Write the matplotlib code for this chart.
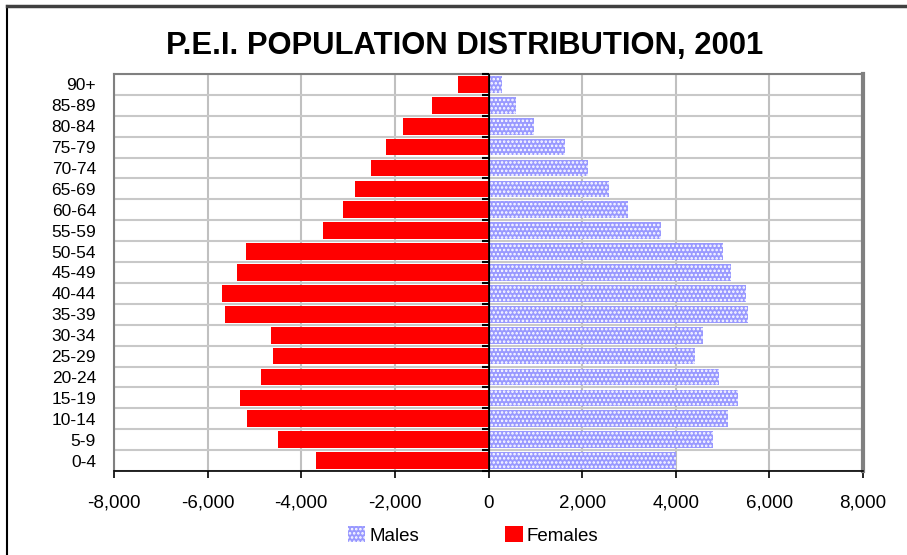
import numpy as np
import matplotlib
matplotlib.use("Agg")
import matplotlib.pyplot as plt
from matplotlib.ticker import FuncFormatter
from matplotlib.lines import Line2D
from matplotlib.patches import Patch

plt.rcParams['font.family'] = ['Liberation Sans', 'DejaVu Sans']
plt.rcParams['hatch.linewidth'] = 1.2

age_groups = ["0-4", "5-9", "10-14", "15-19", "20-24", "25-29", "30-34",
              "35-39", "40-44", "45-49", "50-54", "55-59", "60-64", "65-69",
              "70-74", "75-79", "80-84", "85-89", "90+"]
males = [4000, 4790, 5110, 5330, 4920, 4410, 4590, 5540, 5500, 5180,
         5000, 3680, 2980, 2580, 2120, 1640, 980, 580, 290]
females = [3690, 4490, 5150, 5300, 4850, 4600, 4640, 5620, 5700, 5370,
           5180, 3540, 3100, 2850, 2520, 2190, 1830, 1210, 650]
xticks = [-8000, -6000, -4000, -2000, 0, 2000, 4000, 6000, 8000]

y = np.arange(len(age_groups))

fig = plt.figure(figsize=(9.07, 5.55), dpi=100)
fig.set_facecolor("white")
ax = fig.add_axes([114/907, 1 - 471/555, (863 - 114)/907, (471 - 74)/555])

ax.barh(y, males, height=0.8, color="#9999ff", edgecolor="white",
        hatch="....", linewidth=0, label="Males", zorder=3)
ax.barh(y, [-v for v in females], height=0.8, color="#ff0000",
        linewidth=0, label="Females", zorder=3)

ax.set_xlim(-8000, 8000)
ax.set_ylim(-0.5, len(age_groups) - 0.5)
ax.set_xticks(xticks)
ax.xaxis.set_major_formatter(FuncFormatter(lambda v, p: f"{v:,.0f}"))
ax.set_yticks(y)
ax.set_yticklabels(age_groups)
ax.set_yticks(np.arange(-0.5, len(age_groups)), minor=True)
ax.tick_params(axis='y', which='both', length=0, labelsize=12.5, pad=13)
ax.tick_params(axis='x', length=5, width=1.2, labelsize=13.5, pad=12,
               color="black")
ax.grid(axis='x', color="#c0c0c0", linewidth=1.5, zorder=0)
ax.grid(axis='y', which='minor', color="#c8c8c8", linewidth=1.5, zorder=0)
ax.set_axisbelow(True)

ax.spines['top'].set_color("#808080")
ax.spines['top'].set_linewidth(1.5)
ax.spines['left'].set_color("#808080")
ax.spines['left'].set_linewidth(1.5)
ax.spines['right'].set_color("#808080")
ax.spines['right'].set_linewidth(3)
ax.spines['bottom'].set_color("black")
ax.spines['bottom'].set_linewidth(1.2)

# category axis at zero, with its tick marks between the groups
ax.axvline(0, color="black", linewidth=1.2, zorder=4)
sec = ax.secondary_yaxis(0.5)
sec.set_yticks(np.arange(-0.5, len(age_groups)))
sec.set_yticklabels([])
sec.tick_params(length=5, width=1.5, color="black", direction="in")
sec.spines['left'].set_visible(False)
sec.set_zorder(5)

fig.suptitle("P.E.I. POPULATION DISTRIBUTION, 2001", x=465/907, y=1 - 31/555,
             fontsize=22.3, fontweight="bold")

handles = [Patch(facecolor="#9999ff", edgecolor="white", hatch="....",
                 linewidth=0, label="Males"),
           Patch(facecolor="#ff0000", linewidth=0, label="Females")]
fig.legend(handles=handles, loc="lower center", bbox_to_anchor=(473/907, -0.012),
           ncol=2, frameon=False, fontsize=13.5, handlelength=0.95,
           handleheight=0.95, handletextpad=0.2, columnspacing=4.6)

# chart area border
fig.add_artist(Line2D([7/907, 7/907], [0, 1 - 6/555], color="black",
                      linewidth=1.5, transform=fig.transFigure))
fig.add_artist(Line2D([7/907, 1], [1 - 6/555, 1 - 6/555], color="#404040",
                      linewidth=2.5, transform=fig.transFigure))

fig.savefig("out.png", dpi=100)
plt.close()
